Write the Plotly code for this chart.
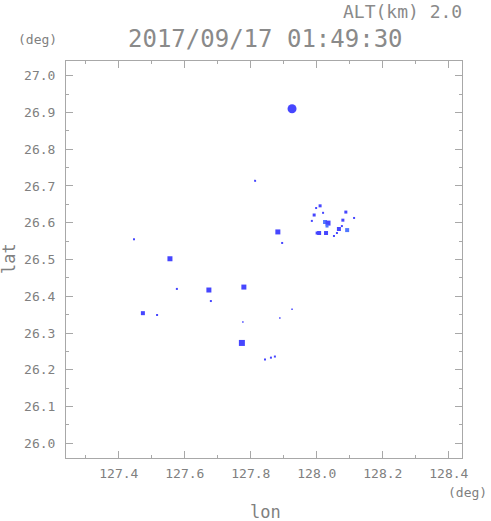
import plotly.graph_objects as go

# ---- data ----
lon = [127.925, 127.813,
       128.010, 127.998, 127.992, 128.019, 127.985, 128.025, 128.034, 128.031,
       128.007, 128.001, 128.028, 128.052, 128.061, 128.067, 128.076, 128.079,
       128.088, 128.092, 128.113,
       127.882, 127.895, 127.446, 127.555, 127.576, 127.673, 127.679, 127.779,
       127.473, 127.516, 127.776, 127.888, 127.925, 127.773,
       127.843, 127.861, 127.873]
lat = [26.910, 26.714,
       26.646, 26.640, 26.621, 26.627, 26.605, 26.602, 26.599, 26.591,
       26.572, 26.572, 26.572, 26.564, 26.572, 26.583, 26.591, 26.607,
       26.629, 26.580, 26.613,
       26.575, 26.545, 26.555, 26.502, 26.420, 26.417, 26.387, 26.425,
       26.354, 26.349, 26.330, 26.341, 26.365, 26.273,
       26.228, 26.233, 26.236]
size = [9, 2,
        3, 2, 3, 2, 2, 4, 5, 3,
        4, 3, 4, 2, 2, 4, 2, 3,
        3, 4, 2,
        5, 2, 2, 5, 2, 5, 2, 5,
        4, 2, 1.5, 1.5, 1.5, 6,
        2, 2, 2]
shade = ["#4646ff", "#4646ff",
         "#4646ff", "#4646ff", "#4646ff", "#4646ff", "#4646ff", "#5078ff", "#4646ff", "#5078ff",
         "#4646ff", "#4646ff", "#4646ff", "#4646ff", "#4646ff", "#4646ff", "#4646ff", "#4646ff",
         "#4646ff", "#5078ff", "#4646ff",
         "#4646ff", "#4646ff", "#4646ff", "#4646ff", "#4646ff", "#4646ff", "#4646ff", "#4646ff",
         "#4646ff", "#4646ff", "#4646ff", "#4646ff", "#4646ff", "#4646ff",
         "#4646ff", "#4646ff", "#4646ff"]

x_ticks = [127.4, 127.6, 127.8, 128.0, 128.2, 128.4]
y_ticks = [26.0, 26.1, 26.2, 26.3, 26.4, 26.5, 26.6, 26.7, 26.8, 26.9, 27.0]
title_text = "2017/09/17 01:49:30"
alt_text = "ALT(km) 2.0"

W, H = 491, 521
L, R, T, B = 66, 462, 61, 458

symbols = ["circle" if s >= 8 else "square" for s in size]

fig = go.Figure(go.Scatter(
    x=lon, y=lat, mode="markers",
    marker=dict(symbol=symbols, size=size, color=shade, opacity=1, line=dict(width=0)),
    hoverinfo="x+y"))

axcol = "#a8a8a8"
txtcol = "#808080"
fnt = "DejaVu Sans Mono"

fig.update_xaxes(range=[127.24, 128.44], tickvals=x_ticks,
                 ticktext=[f"{v:.1f}" for v in x_ticks],
                 ticks="inside", ticklen=7, tickcolor=axcol, tickwidth=1,
                 minor=dict(dtick=0.1, tick0=127.3, ticks="inside", ticklen=3, tickcolor=axcol),
                 showline=True, linecolor=axcol, linewidth=1, mirror="ticks",
                 showgrid=False, zeroline=False, automargin=False,
                 tickfont=dict(family=fnt, size=13, color=txtcol), ticklabelstandoff=3)
fig.update_yaxes(range=[25.96, 27.04], tickvals=y_ticks,
                 ticktext=[f"{v:.1f}" for v in y_ticks],
                 ticks="inside", ticklen=7, tickcolor=axcol, tickwidth=1,
                 minor=dict(dtick=0.05, tick0=25.95, ticks="inside", ticklen=3, tickcolor=axcol),
                 showline=True, linecolor=axcol, linewidth=1, mirror="ticks",
                 showgrid=False, zeroline=False, automargin=False,
                 tickfont=dict(family=fnt, size=13, color=txtcol), ticklabelstandoff=7)

def px(xp):
    return (xp - L) / (R - L)

def py(yp):
    return (B - yp) / (B - T)

ann = [
    dict(text=title_text, x=px(265), y=py(39), size=24, col="#8a8a8a", xa="center", ang=0),
    dict(text=alt_text, x=px(464), y=py(11), size=18, col="#8a8a8a", xa="right", ang=0),
    dict(text="(deg)", x=px(37), y=py(39), size=13, col=txtcol, xa="center", ang=0),
    dict(text="(deg)", x=px(489), y=py(492), size=13, col=txtcol, xa="right", ang=0),
    dict(text="lon", x=px(265), y=py(512), size=17, col=txtcol, xa="center", ang=0),
    dict(text="lat", x=px(9), y=py(258), size=17, col=txtcol, xa="center", ang=-90),
]
for a in ann:
    fig.add_annotation(text=a["text"], x=a["x"], y=a["y"], xref="paper", yref="paper",
                       xanchor=a["xa"], yanchor="middle", showarrow=False, textangle=a["ang"],
                       font=dict(family=fnt, size=a["size"], color=a["col"]))

fig.update_layout(width=W, height=H, autosize=False,
                  margin=dict(l=L, r=W - R, t=T, b=H - B, pad=0, autoexpand=False),
                  paper_bgcolor="white", plot_bgcolor="white", showlegend=False)

fig.write_html("out.html", config={"displayModeBar": False},
               post_script="document.body.style.margin='0px';document.body.style.overflow='hidden';")
